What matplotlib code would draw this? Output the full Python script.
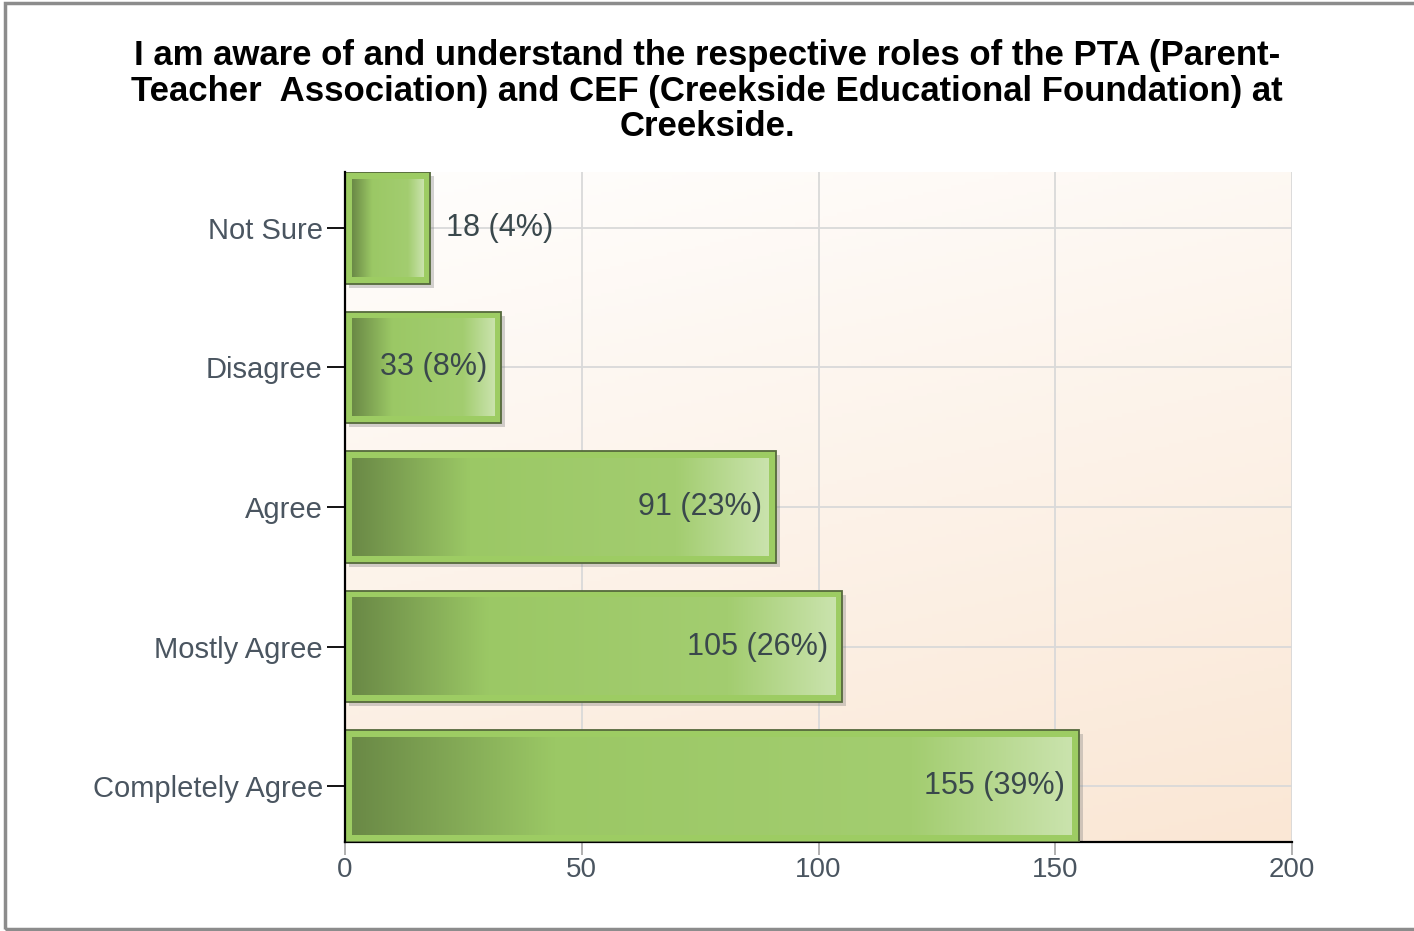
import numpy as np
import matplotlib
matplotlib.use("Agg")
import matplotlib.pyplot as plt
from matplotlib.patches import Rectangle
from matplotlib.colors import LinearSegmentedColormap

# data
categories = ["Not Sure", "Disagree", "Agree", "Mostly Agree", "Completely Agree"]
counts = [18, 33, 91, 105, 155]
percents = [4, 8, 23, 26, 39]
x_ticks = [0, 50, 100, 150, 200]

title = ("I am aware of and understand the respective roles of the PTA (Parent-\n"
         "Teacher  Association) and CEF (Creekside Educational Foundation) at\n"
         "Creekside.")

plt.rcParams['font.family'] = ['Liberation Sans', 'DejaVu Sans']

W, H = 1414, 931
fig = plt.figure(figsize=(W / 100, H / 100), dpi=100)
ax = fig.add_axes([345 / W, 1 - 842 / H, 947 / W, 670 / H])

# background: white at the top fading to light peach at the bottom right
bg_cmap = LinearSegmentedColormap.from_list("bg", ["#fffefd", "#fae7d5"])
gx, gy = np.meshgrid(np.linspace(0, 1, 200), np.linspace(0, 1, 200))
ax.imshow(0.25 * gx + 0.75 * gy, cmap=bg_cmap, extent=[0, 1, 0, 1],
          transform=ax.transAxes, aspect='auto', zorder=-1)

bar_cmap = LinearSegmentedColormap.from_list(
    "bar", [(0.0, "#6a8946"), (0.28, "#9bc865"), (0.78, "#a3cd70"), (1.0, "#cae3ad")])
grad = np.linspace(0, 1, 256).reshape(1, -1)

px_x = 947 / 200.0   # pixels per x unit
px_y = 670 / 4.8     # pixels per category
h = 0.8
ins_x, ins_y = 7 / px_x, 7 / px_y
sh_x, sh_y = 4 / px_x, 4 / px_y

for i, v in enumerate(counts):
    top = i - h / 2
    ax.add_patch(Rectangle((sh_x, top + sh_y), v, h, fc='#808080', ec='none',
                           alpha=0.35, zorder=2))
    ax.add_patch(Rectangle((0, top), v, h, fc='#9dcc63', ec='#55693c',
                           lw=1.3, zorder=3))
    ax.imshow(grad, cmap=bar_cmap, aspect='auto', zorder=4,
              extent=[ins_x, v - ins_x, i + h / 2 - ins_y, top + ins_y])
    label = f"{v} ({percents[i]}%)"
    if v >= 25:
        ax.text(v - 14 / px_x, i, label, ha='right', va='center',
                fontsize=22, color='#3a484c', zorder=5)
    else:
        ax.text(v + 16 / px_x, i, label, ha='left', va='center',
                fontsize=22, color='#3a484c', zorder=5)

ax.set_xlim(0, 200)
ax.set_ylim(4.4, -0.4)
ax.set_xticks(x_ticks)
ax.set_yticks(range(len(categories)))
ax.set_yticklabels(categories)

ax.set_axisbelow(True)
ax.grid(True, color='#d9d9d9', lw=1.3)
for s in ['top', 'right']:
    ax.spines[s].set_visible(False)
ax.spines['left'].set_linewidth(1.6)
ax.spines['bottom'].set_linewidth(1.6)
ax.spines['left'].set_zorder(6)

ax.tick_params(axis='y', length=13, width=1.3, color='black', pad=3,
               labelsize=21, labelcolor='#4a5560')
ax.tick_params(axis='x', length=9, width=1.3, color='#aaaaaa', pad=2,
               labelsize=20, labelcolor='#4a5560')

fig.text(0.5, 1 - 39 / H, title, ha='center', va='top', fontsize=25,
         fontweight='bold', color='black', linespacing=1.1)

fig.patches.append(Rectangle((5 / W, 2 / H), 1.02, 1 - 5 / H, transform=fig.transFigure,
                             fill=False, ec='#8c8c8c', lw=2.5))

fig.savefig('out.png', dpi=100)
